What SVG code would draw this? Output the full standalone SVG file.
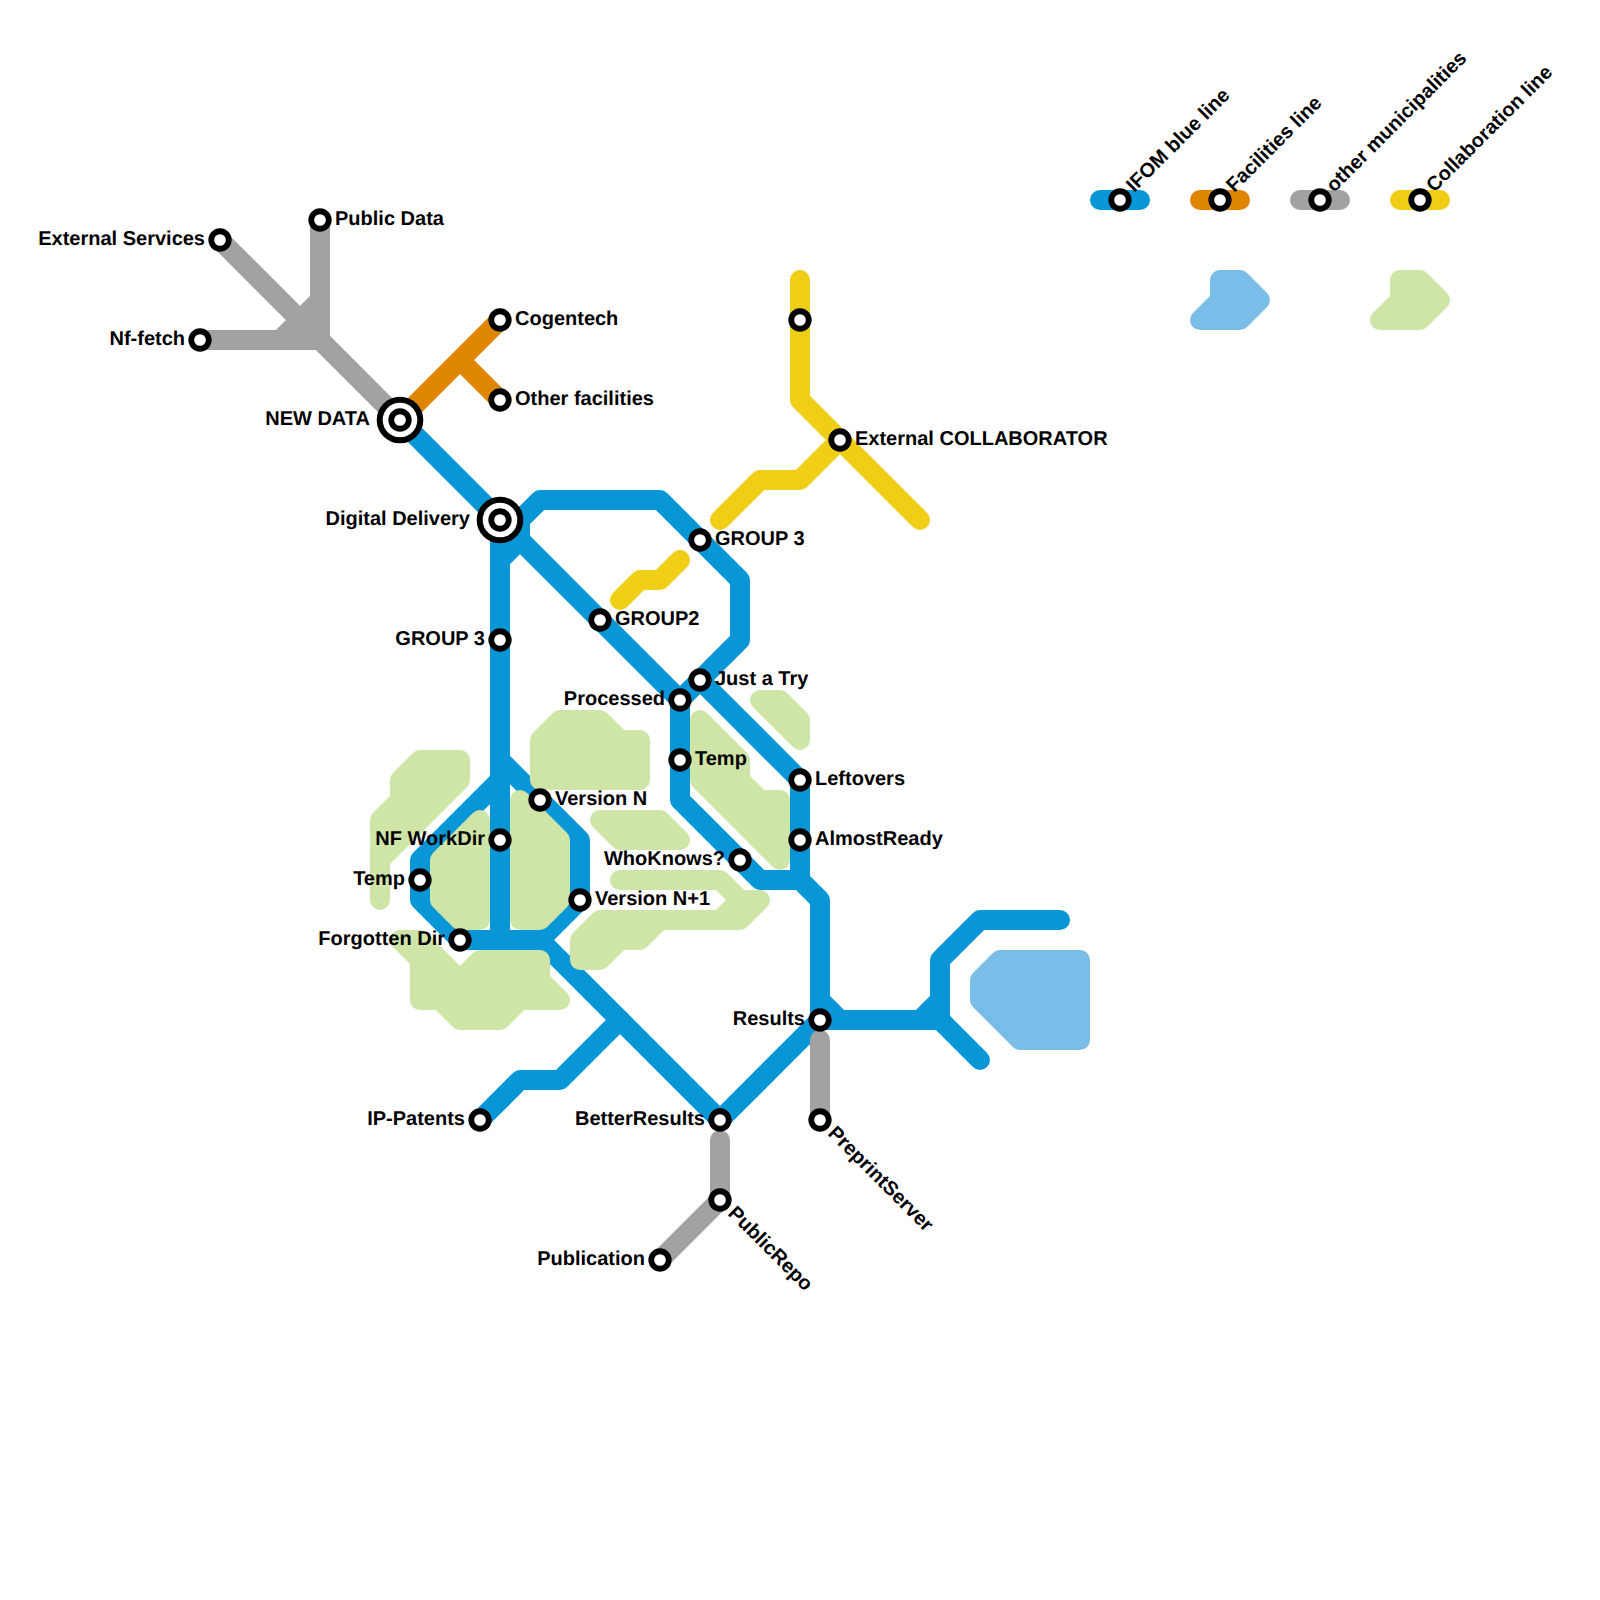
<svg xmlns="http://www.w3.org/2000/svg" width="1600" height="1600" viewBox="0 0 1600 1600">
<style>
.l{fill:none;stroke-width:20;stroke-linecap:round;stroke-linejoin:round}
.blue{stroke:#0896d7}.orange{stroke:#df8600}.grey{stroke:#a2a2a2}.yellow{stroke:#f0ce15}
.green{fill:#cfe4a7;stroke:#cfe4a7;stroke-width:20;stroke-linejoin:round;stroke-linecap:round}
.water{fill:#79bde9;stroke:#79bde9;stroke-width:20;stroke-linejoin:round;stroke-linecap:round}
.s{fill:#fff;stroke:#000;stroke-width:5.8}
.o{fill:#fff;stroke:#000;stroke-width:6}
text{font-family:"Liberation Sans",Arial,sans-serif;font-weight:700;font-size:20px;fill:#000;text-rendering:geometricPrecision}
.e{text-anchor:end}
</style>
<rect width="1600" height="1600" fill="#fff"/>
<g id="connectors">
<path class="l blue" d="M400,420L680,700"/>
<path class="l blue" d="M520,540V520L540,500H660L740,580V640L680,700V800L760,880H800L820,900V1020L720,1120L540,940"/>
<path class="l blue" d="M700,680L800,780V880M500,520V940M500,560L520,540"/>
<path class="l blue" d="M500,760L580,840V900L540,940H460L420,900V860L500,780"/>
<path class="l blue" d="M480,1120L520,1080H560L620,1020"/>
<path class="l blue" d="M820,1020H940V960L980,920H1060M940,1020L980,1060M920,1020L940,1000M820,1000L840,1020"/>
<path class="l grey" d="M220,240L400,420M320,220V340M200,340H280L320,300M200,340H320"/>
<path class="l grey" d="M820,1040V1120M720,1140V1200L660,1260"/>
<path class="l orange" d="M400,420L500,320M460,360L500,400"/>
<path class="l yellow" d="M800,280V400L920,520M720,520L760,480H800L840,440M620,600L640,580H660L680,560"/>
<path class="l blue" d="M1100,200H1140"/>
<path class="l orange" d="M1200,200H1240"/>
<path class="l grey" d="M1300,200H1340"/>
<path class="l yellow" d="M1400,200H1440"/>
</g>
<g id="areas">
<polygon class="green" points="540,740 560,720 600,720 620,740 640,740 640,780 540,780"/>
<polygon class="green" points="380,820 400,800 400,780 420,760 460,760 460,780 380,860 380,900 380,860"/>
<polygon class="green" points="440,860 480,820 480,920 460,920 440,900"/>
<polygon class="green" points="520,800 560,840 560,900 540,920 520,920"/>
<polygon class="green" points="400,940 420,960 420,1000 440,1000 460,1020 500,1020 520,1000 560,1000 540,980 540,960 480,960 460,980 420,940"/>
<polygon class="green" points="600,820 660,820 680,840 620,840"/>
<path class="green" d="M620,880H720L740,900H760L740,920H660L640,940H620L600,960H580V940L600,920H720L740,900L720,880Z"/>
<polygon class="green" points="700,720 740,760 740,780 760,800 780,800 780,860 700,780"/>
<polygon class="green" points="760,700 780,700 800,720 800,740"/>
<polygon class="water" points="1000,960 1080,960 1080,1040 1020,1040 980,1000 980,980"/>
<polygon class="water" points="1220,280 1240,280 1260,300 1240,320 1200,320 1220,300"/>
<polygon class="green" points="1400,280 1420,280 1440,300 1420,320 1380,320 1400,300"/>
</g>
<g id="stations">
<g id="new-data"><circle class="o" cx="400" cy="420" r="20.3"/><circle class="s" cx="400" cy="420" r="8.75"/><text class="e" x="370" y="425">NEW DATA</text></g>
<g id="digital-delivery"><circle class="o" cx="500" cy="520" r="20.3"/><circle class="s" cx="500" cy="520" r="8.75"/><text class="e" x="470" y="525">Digital Delivery</text></g>
<g id="external-services"><circle class="s" cx="220" cy="240" r="8.75"/><text class="e" x="205" y="245">External Services</text></g>
<g id="public-data"><circle class="s" cx="320" cy="220" r="8.75"/><text x="335" y="225">Public Data</text></g>
<g id="nf-fetch"><circle class="s" cx="200" cy="340" r="8.75"/><text class="e" x="185" y="345">Nf-fetch</text></g>
<g id="cogentech"><circle class="s" cx="500" cy="320" r="8.75"/><text x="515" y="325">Cogentech</text></g>
<g id="other-facilities"><circle class="s" cx="500" cy="400" r="8.75"/><text x="515" y="405">Other facilities</text></g>
<g id="yellow-top"><circle class="s" cx="800" cy="320" r="8.75"/></g>
<g id="external-collaborator"><circle class="s" cx="840" cy="440" r="8.75"/><text x="855" y="445">External COLLABORATOR</text></g>
<g id="group3-a"><circle class="s" cx="700" cy="540" r="8.75"/><text x="715" y="545">GROUP 3</text></g>
<g id="group2"><circle class="s" cx="600" cy="620" r="8.75"/><text x="615" y="625">GROUP2</text></g>
<g id="group3-b"><circle class="s" cx="500" cy="640" r="8.75"/><text class="e" x="485" y="645">GROUP 3</text></g>
<g id="just-a-try"><circle class="s" cx="700" cy="680" r="8.75"/><text x="715" y="685">Just a Try</text></g>
<g id="processed"><circle class="s" cx="680" cy="700" r="8.75"/><text class="e" x="665" y="705">Processed</text></g>
<g id="temp-a"><circle class="s" cx="680" cy="760" r="8.75"/><text x="695" y="765">Temp</text></g>
<g id="leftovers"><circle class="s" cx="800" cy="780" r="8.75"/><text x="815" y="785">Leftovers</text></g>
<g id="almost-ready"><circle class="s" cx="800" cy="840" r="8.75"/><text x="815" y="845">AlmostReady</text></g>
<g id="who-knows"><circle class="s" cx="740" cy="860" r="8.75"/><text class="e" x="725" y="865">WhoKnows?</text></g>
<g id="version-n"><circle class="s" cx="540" cy="800" r="8.75"/><text x="555" y="805">Version N</text></g>
<g id="version-n1"><circle class="s" cx="580" cy="900" r="8.75"/><text x="595" y="905">Version N+1</text></g>
<g id="nf-workdir"><circle class="s" cx="500" cy="840" r="8.75"/><text class="e" x="485" y="845">NF WorkDir</text></g>
<g id="temp-b"><circle class="s" cx="420" cy="880" r="8.75"/><text class="e" x="405" y="885">Temp</text></g>
<g id="forgotten-dir"><circle class="s" cx="460" cy="940" r="8.75"/><text class="e" x="445" y="945">Forgotten Dir</text></g>
<g id="results"><circle class="s" cx="820" cy="1020" r="8.75"/><text class="e" x="805" y="1025">Results</text></g>
<g id="better-results"><circle class="s" cx="720" cy="1120" r="8.75"/><text class="e" x="705" y="1125">BetterResults</text></g>
<g id="ip-patents"><circle class="s" cx="480" cy="1120" r="8.75"/><text class="e" x="465" y="1125">IP-Patents</text></g>
<g id="publication"><circle class="s" cx="660" cy="1260" r="8.75"/><text class="e" x="645" y="1265">Publication</text></g>
<g id="preprint-server"><circle class="s" cx="820" cy="1120" r="8.75"/><text transform="translate(820,1120) rotate(45)" x="15" y="5">PreprintServer</text></g>
<g id="public-repo"><circle class="s" cx="720" cy="1200" r="8.75"/><text transform="translate(720,1200) rotate(45)" x="15" y="5">PublicRepo</text></g>
<g id="legend-blue"><circle class="s" cx="1120" cy="200" r="8.75"/><text transform="translate(1120,200) rotate(-45)" x="15" y="5">IFOM blue line</text></g>
<g id="legend-orange"><circle class="s" cx="1220" cy="200" r="8.75"/><text transform="translate(1220,200) rotate(-45)" x="15" y="5">Facilities line</text></g>
<g id="legend-grey"><circle class="s" cx="1320" cy="200" r="8.75"/><text transform="translate(1320,200) rotate(-45)" x="15" y="5">other municipalities</text></g>
<g id="legend-yellow"><circle class="s" cx="1420" cy="200" r="8.75"/><text transform="translate(1420,200) rotate(-45)" x="15" y="5">Collaboration line</text></g>
</g>
</svg>
